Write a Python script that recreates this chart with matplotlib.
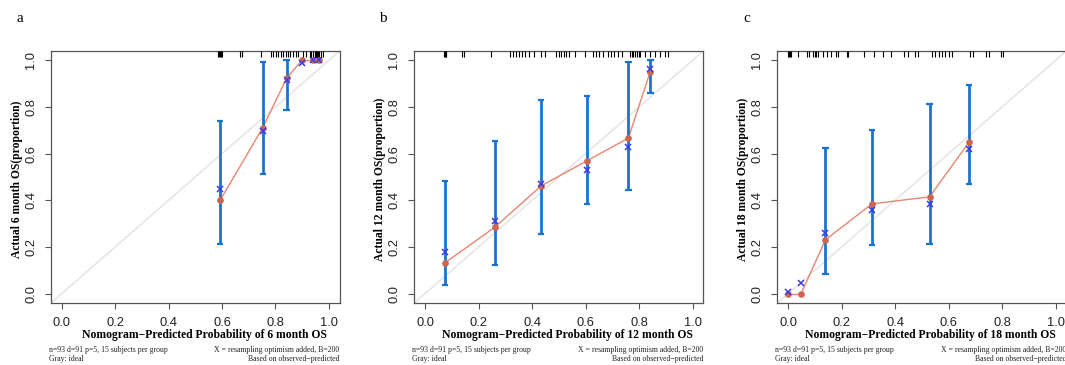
import matplotlib
matplotlib.use("Agg")
import matplotlib.pyplot as plt
import numpy as np

W, H = 1065, 365
DPI = 100

panel_letters = ["a", "b", "c"]
months = ["6", "12", "18"]

# predicted group means
pred_a = [0.593, 0.753, 0.842, 0.899, 0.942, 0.965]
obs_a = [0.400, 0.712, 0.923, 1.000, 1.000, 1.000]
corr_a = [0.450, 0.697, 0.916, 0.989, 1.000, 1.000]
lo_a = [0.215, 0.514, 0.788, 1.000, 1.000, 1.000]
hi_a = [0.742, 0.994, 1.000, 1.000, 1.000, 1.000]

pred_b = [0.0745, 0.261, 0.4335, 0.606, 0.760, 0.842]
obs_b = [0.132, 0.285, 0.4615, 0.570, 0.667, 0.952]
corr_b = [0.177, 0.311, 0.470, 0.528, 0.628, 0.964]
lo_b = [0.037, 0.125, 0.255, 0.383, 0.446, 0.859]
hi_b = [0.484, 0.654, 0.830, 0.848, 0.994, 1.000]

pred_c = [0.000, 0.049, 0.140, 0.314, 0.529, 0.677]
obs_c = [0.000, 0.000, 0.231, 0.385, 0.415, 0.650]
corr_c = [0.009, 0.047, 0.259, 0.360, 0.386, 0.622]
lo_c = [0.000, 0.000, 0.084, 0.209, 0.212, 0.470]
hi_c = [0.000, 0.000, 0.624, 0.701, 0.812, 0.896]

rug_a = [0.586, 0.589, 0.592, 0.595, 0.600, 0.667, 0.676, 0.748, 0.783, 0.791,
         0.801, 0.811, 0.821, 0.829, 0.839, 0.847, 0.856, 0.866, 0.878, 0.886,
         0.903, 0.913, 0.928, 0.934, 0.941, 0.947, 0.950, 0.953, 0.956, 0.959,
         0.965, 0.972, 0.980]
rug_b = [0.071, 0.074, 0.077, 0.080, 0.139, 0.145, 0.246, 0.316, 0.327, 0.339,
         0.350, 0.362, 0.374, 0.387, 0.406, 0.432, 0.450, 0.491, 0.499, 0.508,
         0.518, 0.527, 0.537, 0.561, 0.597, 0.626, 0.639, 0.651, 0.664, 0.683,
         0.696, 0.708, 0.723, 0.735, 0.766, 0.773, 0.779, 0.785, 0.791, 0.798,
         0.804, 0.822, 0.841, 0.860, 0.878, 0.897, 0.909]
rug_c = [0.000, 0.004, 0.008, 0.012, 0.038, 0.070, 0.078, 0.094, 0.100, 0.106,
         0.113, 0.131, 0.144, 0.161, 0.178, 0.186, 0.221, 0.224, 0.283, 0.321,
         0.356, 0.385, 0.435, 0.448, 0.476, 0.487, 0.538, 0.551, 0.563, 0.576,
         0.588, 0.601, 0.612, 0.679, 0.690, 0.740, 0.751, 0.795, 0.804]

xticks = [0.0, 0.2, 0.4, 0.6, 0.8, 1.0]
yticks = [0.0, 0.2, 0.4, 0.6, 0.8, 1.0]

footer_left = ["n=93 d=91 p=5, 15 subjects per group", "Gray: ideal"]
footer_right = ["X = resampling optimism added, B=200", "Based on observed\u2212predicted"]

panels = [
    (pred_a, obs_a, corr_a, lo_a, hi_a, rug_a),
    (pred_b, obs_b, corr_b, lo_b, hi_b, rug_b),
    (pred_c, obs_c, corr_c, lo_c, hi_c, rug_c),
]

# axes boxes in pixels: left, right, top, bottom
boxes = [(51, 339.5, 51, 303), (414.3, 703.3, 51, 303), (777.3, 1066.3, 51, 303)]
letter_pos = [(20, 18), (383, 18), (747, 18)]

SERIF = ["Liberation Serif", "DejaVu Serif"]
SANS = ["Liberation Sans", "DejaVu Sans"]

BLUE_BAR = "#1a74cf"
BLUE_X = "#3b3be8"
RED_DOT = "#cc6650"
RED_LINE = "#e8866f"
GRAY = "#e2e2e2"
SPINE = "#555555"

fig = plt.figure(figsize=(W / DPI, H / DPI), dpi=DPI)


def fx(px):
    return px / W


def fy(py):
    return 1 - py / H


for i, (pred, obs, corr, lo, hi, rug) in enumerate(panels):
    l, r, t, b = boxes[i]
    aw, ah = r - l, b - t
    ax = fig.add_axes([fx(l), fy(b), aw / W, ah / H])
    ax.set_xlim(-0.04, 1.04)
    ax.set_ylim(-0.04, 1.04)

    # ideal line
    ax.axline((0, 0), (1, 1), color=GRAY, lw=1.0, zorder=1)

    # apparent (observed) line with gaps at points (R type="b")
    fig.canvas.draw()
    pts = ax.transData.transform(np.column_stack([pred, obs]))
    gap = 3.5
    inv = ax.transData.inverted()
    for k in range(len(pred) - 1):
        p0, p1 = pts[k], pts[k + 1]
        d = p1 - p0
        dist = np.hypot(*d)
        if dist <= 2 * gap:
            continue
        u = d / dist
        q0 = inv.transform(p0 + u * gap)
        q1 = inv.transform(p1 - u * gap)
        ax.plot([q0[0], q1[0]], [q0[1], q1[1]], color=RED_LINE, lw=1.0, zorder=2)

    # error bars
    pa = np.array(pred)
    la = np.array(lo)
    ha = np.array(hi)
    mask = ha - la > 1e-6
    ax.vlines(pa[mask], la[mask], ha[mask], color=BLUE_BAR, lw=2.0, zorder=3)
    cw = 0.012
    ax.hlines(la[mask], pa[mask] - cw, pa[mask] + cw, color=BLUE_BAR, lw=1.6, zorder=3)
    ax.hlines(ha[mask], pa[mask] - cw, pa[mask] + cw, color=BLUE_BAR, lw=1.6, zorder=3)

    ax.plot(pred, obs, "o", color=RED_DOT, ms=3.8, mec=RED_DOT, zorder=4, ls="none")
    ax.plot(pred, corr, "x", color=BLUE_X, ms=5.0, mew=1.1, zorder=5, ls="none")

    # rug at top
    ax.vlines(rug, 1.0, 0.978, transform=ax.get_xaxis_transform(), color="black",
              lw=0.8, zorder=6, clip_on=False)

    ax.set_xticks(xticks)
    ax.set_xticklabels(["%.1f" % v for v in xticks], fontfamily=SANS, fontsize=9.3,
                       color="#222222")
    ax.set_yticks(yticks)
    ax.set_yticklabels(["%.1f" % v for v in yticks], fontfamily=SANS, fontsize=9.3,
                       rotation=90, va="center", color="#222222")
    ax.tick_params(axis="both", direction="out", length=4, width=0.8, color=SPINE)
    ax.tick_params(axis="x", pad=6)
    ax.tick_params(axis="y", pad=6)
    for s in ax.spines.values():
        s.set_color(SPINE)
        s.set_linewidth(0.9)

    ax.set_xlabel("Nomogram\u2212Predicted Probability of %s month OS" % months[i],
                  fontfamily=SERIF, fontweight="bold", fontsize=8.4)
    ax.xaxis.label.set_va("center")
    ax.xaxis.set_label_coords((aw / 2 + 9) / aw, -(335 - b) / ah)
    ax.set_ylabel("Actual %s month OS(proportion)" % months[i],
                  fontfamily=SERIF, fontweight="bold", fontsize=8.4)
    ax.yaxis.label.set_va("center")
    ax.yaxis.set_label_coords(-34 / aw, 0.49)

    fig.text(fx(letter_pos[i][0]), fy(letter_pos[i][1]), panel_letters[i],
             fontfamily=SERIF, fontsize=11, ha="center", va="center")

    # footers
    fs = 5.6
    fig.text(fx(l - 2), fy(350), footer_left[0], fontfamily=SERIF, fontsize=fs,
             ha="left", va="center", color="#222222")
    fig.text(fx(l - 2), fy(359), footer_left[1], fontfamily=SERIF, fontsize=fs,
             ha="left", va="center", color="#222222")
    fig.text(fx(r), fy(350), footer_right[0], fontfamily=SERIF, fontsize=fs,
             ha="right", va="center", color="#222222")
    fig.text(fx(r), fy(359), footer_right[1], fontfamily=SERIF, fontsize=fs,
             ha="right", va="center", color="#222222")

fig.savefig("out.png", dpi=DPI)
